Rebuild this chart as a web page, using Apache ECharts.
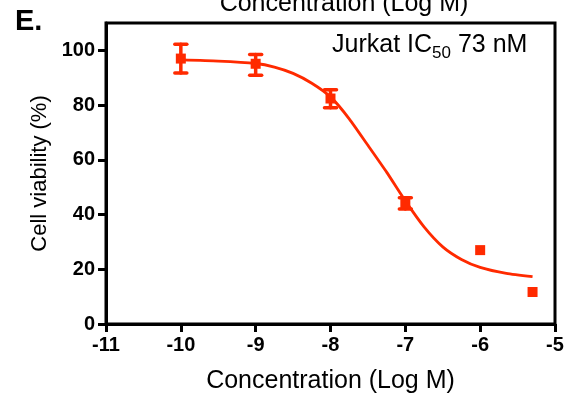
<!DOCTYPE html>
<html>
<head>
<meta charset="utf-8">
<script src="https://cdn.jsdelivr.net/npm/echarts@6/dist/echarts.min.js"></script>
<style>
  html, body { margin: 0; padding: 0; background: #fff; }
  #chart { width: 575px; height: 394px; }
</style>
</head>
<body>
<div id="chart"></div>
<script>
// measured points (log M, % viability) with error range
var doseX = [-10, -9, -8, -7, -6, -5.3]
var viability = [97, 95.1, 82.4, 44.0, 27.0, 11.7]
var errLow = [91.7, 90.9, 79.0, 42.0, null, null]
var errHigh = [102.2, 98.5, 85.6, 46.1, null, null]

// fitted curve
var curveX = [-10, -9.5, -9, -8.75, -8.5, -8.25, -8, -7.75, -7.5, -7.25, -7, -6.75, -6.5, -6.25, -6, -5.65, -5.3]
var curveY = [96.5, 96.1, 95.2, 93.9, 91.6, 88, 83, 75, 65.3, 55.5, 45, 35.5, 28.2, 23.6, 20.7, 18.5, 17.3]

var yTicks = [0, 20, 40, 60, 80, 100]

var red = '#ff2a00'
var font = 'Liberation Sans, Arial, sans-serif'

var chart = echarts.init(document.getElementById('chart'))

var points = doseX.map(function (x, i) { return [x, viability[i]] })
var bars = []
doseX.forEach(function (x, i) {
    if (errLow[i] != null) bars.push([x, errLow[i], errHigh[i]])
})
var curve = curveX.map(function (x, i) { return [x, curveY[i]] })

chart.setOption({
    animation: false,
    grid: {
        left: 106, right: 20, top: 23, bottom: 70,
        outerBoundsMode: 'none',
        show: true,
        borderColor: '#000',
        borderWidth: 3
    },
    graphic: [
        {
            type: 'text', left: 15, top: 7,
            style: { text: 'E.', font: 'bold 29px ' + font, fill: '#000' }
        },
        {
            type: 'text', x: 344, y: 17,
            style: {
                text: 'Concentration (Log M)', font: '25px ' + font, fill: '#000',
                align: 'center', verticalAlign: 'bottom'
            }
        },
        {
            type: 'text', x: 332, y: 45,
            style: {
                text: '{a|Jurkat IC}{s|50}{a| 73 nM}',
                verticalAlign: 'middle',
                rich: {
                    a: { fontFamily: font, fontSize: 25, color: '#000' },
                    s: { fontFamily: font, fontSize: 17, color: '#000', padding: [16, 0, 0, 0] }
                }
            }
        }
    ],
    xAxis: {
        type: 'value',
        min: -11, max: -5, interval: 1,
        name: 'Concentration (Log M)',
        nameLocation: 'middle',
        nameGap: 45,
        nameTextStyle: { fontFamily: font, fontSize: 25, color: '#000' },
        axisLine: { onZero: false, lineStyle: { color: '#000', width: 3 } },
        axisTick: { show: true, length: 8, lineStyle: { color: '#000', width: 3 } },
        axisLabel: { fontFamily: font, fontWeight: 'bold', fontSize: 20, color: '#000', margin: 11 },
        splitLine: { show: false }
    },
    yAxis: {
        type: 'value',
        min: 0, max: 110,
        name: 'Cell viability (%)',
        nameLocation: 'middle',
        nameGap: 55,
        nameTextStyle: { fontFamily: font, fontSize: 22, color: '#000' },
        axisLine: { show: true, lineStyle: { color: '#000', width: 3 } },
        axisTick: { show: true, length: 8, customValues: yTicks, lineStyle: { color: '#000', width: 3 } },
        axisLabel: { fontFamily: font, fontWeight: 'bold', fontSize: 20, color: '#000', margin: 11, customValues: yTicks },
        splitLine: { show: false }
    },
    series: [
        {
            type: 'line',
            data: curve,
            smooth: 0.2,
            showSymbol: false,
            lineStyle: { color: red, width: 2.8 },
            z: 2
        },
        {
            type: 'custom',
            data: bars,
            renderItem: function (params, api) {
                var lo = api.coord([api.value(0), api.value(1)])
                var hi = api.coord([api.value(0), api.value(2)])
                var w = 6
                var st = { stroke: red, lineWidth: 3.5, lineCap: 'round' }
                return {
                    type: 'group',
                    children: [
                        { type: 'line', shape: { x1: lo[0], y1: lo[1], x2: hi[0], y2: hi[1] }, style: st },
                        { type: 'line', shape: { x1: lo[0] - w, y1: lo[1], x2: lo[0] + w, y2: lo[1] }, style: st },
                        { type: 'line', shape: { x1: hi[0] - w, y1: hi[1], x2: hi[0] + w, y2: hi[1] }, style: st }
                    ]
                }
            },
            z: 3
        },
        {
            type: 'scatter',
            data: points,
            symbol: 'rect',
            symbolSize: 10,
            itemStyle: { color: red, opacity: 1 },
            z: 4
        }
    ]
})
</script>
</body>
</html>
